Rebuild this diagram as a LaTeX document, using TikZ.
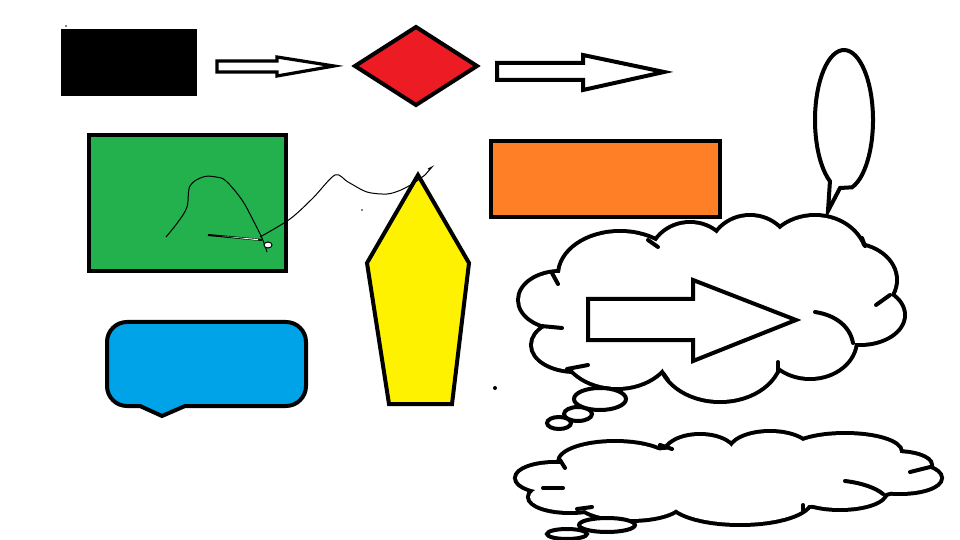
\documentclass[tikz,border=0pt]{standalone}
\definecolor{paintred}{HTML}{ED1C24}
\definecolor{paintgreen}{HTML}{22B14C}
\definecolor{paintorange}{HTML}{FF7F27}
\definecolor{paintblue}{HTML}{00A2E8}
\definecolor{paintyellow}{HTML}{FFF200}
\tikzset{
  outline/.style={draw=black, line width=2pt, line join=miter},
  thinarrow/.style={draw=black, line width=1.6pt, fill=white},
  scribble/.style={draw=black, line width=0.5pt},
  cloudedge/.style={draw=black, line width=4pt},
  cloudhook/.style={draw=black, line width=2pt, line cap=round},
}
\begin{document}
\begin{tikzpicture}[x=0.5pt, y=-0.5pt]
    \useasboundingbox (0,0) rectangle (960,540);

    % top row
    \fill[black] (61,29) rectangle (197,96);
    \fill[black] (66,26) circle (0.8);
    \draw[thinarrow] (217,61) -- (277,61) -- (277,57) -- (334,66) -- (277,76) -- (277,72) -- (217,72) -- cycle;
    \draw[outline, fill=paintred] (416,27) -- (477,66) -- (416,105) -- (355,66) -- cycle;
    \draw[outline, fill=white] (497,63) -- (583,63) -- (583,55) -- (664,72) -- (583,90) -- (583,80) -- (497,80) -- cycle;

    % middle row
    \draw[outline, fill=paintgreen] (89,135) rectangle (286,271);
    \draw[outline, fill=paintorange] (491,141) rectangle (720,217);
    \draw[outline, fill=paintyellow] (418,175) -- (469,263) -- (452,404) -- (389,404) -- (367,263) -- cycle;

    % scribbles
    \draw[scribble] plot[smooth, tension=0.6] coordinates {(166,237) (178,222) (187,207) (190,186) (203,177) (216,177) (226,181) (242,200) (253,220) (262,238) (267,252)};
    \draw[scribble] plot[smooth, tension=0.5] coordinates {(260,237) (290,219) (313,198) (335,175) (348,182) (367,192) (387,194) (401,190) (414,183)};
    \draw[scribble] (414,183) -- (425,175) -- (432,167) -- (428,169);
    \draw[black, line width=1pt] (208,235) -- (262,240);
    \fill[white] (222,236.2) -- (258,239) -- (258,240.2) -- cycle;
    \draw[scribble, fill=white] (268,245) ellipse [x radius=4, y radius=3];
    \fill[black] (362,210) circle (0.8);
    \fill[black] (495,388) circle (2);

    % speech bubble
    \draw[outline, fill=white] (852,187.3) arc[start angle=74, end angle=-241, x radius=29, y radius=70] -- (828,211) -- (840,188) -- cycle;

    % blue callout
    \draw[outline, fill=paintblue] (200,322) [rounded corners=10pt] -- (107,322) -- (107,406) [sharp corners] -- (140,406) -- (162,416) -- (185,406) [rounded corners=10pt] -- (306,406) -- (306,322) -- cycle;

    % thought cloud with arrow
    \foreach \cx/\cy/\rx/\ry in {560/300/40/27, 575/345/42/25, 620/275/60/42, 690/262/40/38, 750/255/40/38, 815/260/50/43, 850/280/45/35, 860/315/43/28, 810/340/45/37, 720/355/60/45, 617/345/55/42, 710/305/150/60}
        \draw[cloudedge] (\cx,\cy) ellipse [x radius=\rx, y radius=\ry];
    \foreach \cx/\cy/\rx/\ry in {560/300/40/27, 575/345/42/25, 620/275/60/42, 690/262/40/38, 750/255/40/38, 815/260/50/43, 850/280/45/35, 860/315/43/28, 810/340/45/37, 720/355/60/45, 617/345/55/42, 710/305/150/60}
        \fill[white] (\cx,\cy) ellipse [x radius=\rx, y radius=\ry];
    \draw[cloudhook] (552,273) -- (558,284);
    \draw[cloudhook] (541,326) -- (562,328);
    \draw[cloudhook] (567,369) -- (588,365);
    \draw[cloudhook] (648,240) -- (658,247);
    \draw[cloudhook] (862,238) -- (865,246);
    \draw[cloudhook] (890,295) -- (876,305);
    \draw[cloudhook] (815,312) .. controls (835,315) and (850,326) .. (853,343);
    \draw[cloudhook] (778,362) -- (778,372);
    \draw[cloudhook] (663,373) -- (668,380);
    \draw[outline] (588,299) -- (693,299) -- (693,280) -- (796,320) -- (693,361) -- (693,340) -- (588,340) -- cycle;
    \draw[outline, fill=white] (559,423) ellipse [x radius=12, y radius=6];
    \draw[outline, fill=white] (578,414) ellipse [x radius=14, y radius=7];
    \draw[outline, fill=white] (600,399) ellipse [x radius=26, y radius=11];

    % bottom cloud
    \foreach \cx/\cy/\rx/\ry in {555/478/38/14, 570/497/40/14, 630/503/50/16, 740/500/70/23, 840/492/45/16, 900/478/40/14, 895/465/35/12, 845/452/55/17, 770/452/40/19, 700/455/35/19, 615/462/55/19, 730/478/180/30}
        \draw[cloudedge] (\cx,\cy) ellipse [x radius=\rx, y radius=\ry];
    \foreach \cx/\cy/\rx/\ry in {555/478/38/14, 570/497/40/14, 630/503/50/16, 740/500/70/23, 840/492/45/16, 900/478/40/14, 895/465/35/12, 845/452/55/17, 770/452/40/19, 700/455/35/19, 615/462/55/19, 730/478/180/30}
        \fill[white] (\cx,\cy) ellipse [x radius=\rx, y radius=\ry];
    \draw[cloudhook] (560,460) -- (565,468);
    \draw[cloudhook] (543,488) -- (563,488);
    \draw[cloudhook] (577,509) -- (592,507);
    \draw[cloudhook] (660,445) -- (672,449);
    \draw[cloudhook] (910,472) -- (930,467);
    \draw[cloudhook] (845,481) .. controls (862,483) and (876,488) .. (883,494);
    \draw[cloudhook] (803,505) -- (803,510);
    \draw[outline, fill=white] (567,534) ellipse [x radius=20, y radius=5];
    \draw[outline, fill=white] (607,525) ellipse [x radius=28, y radius=7];
\end{tikzpicture}
\end{document}
